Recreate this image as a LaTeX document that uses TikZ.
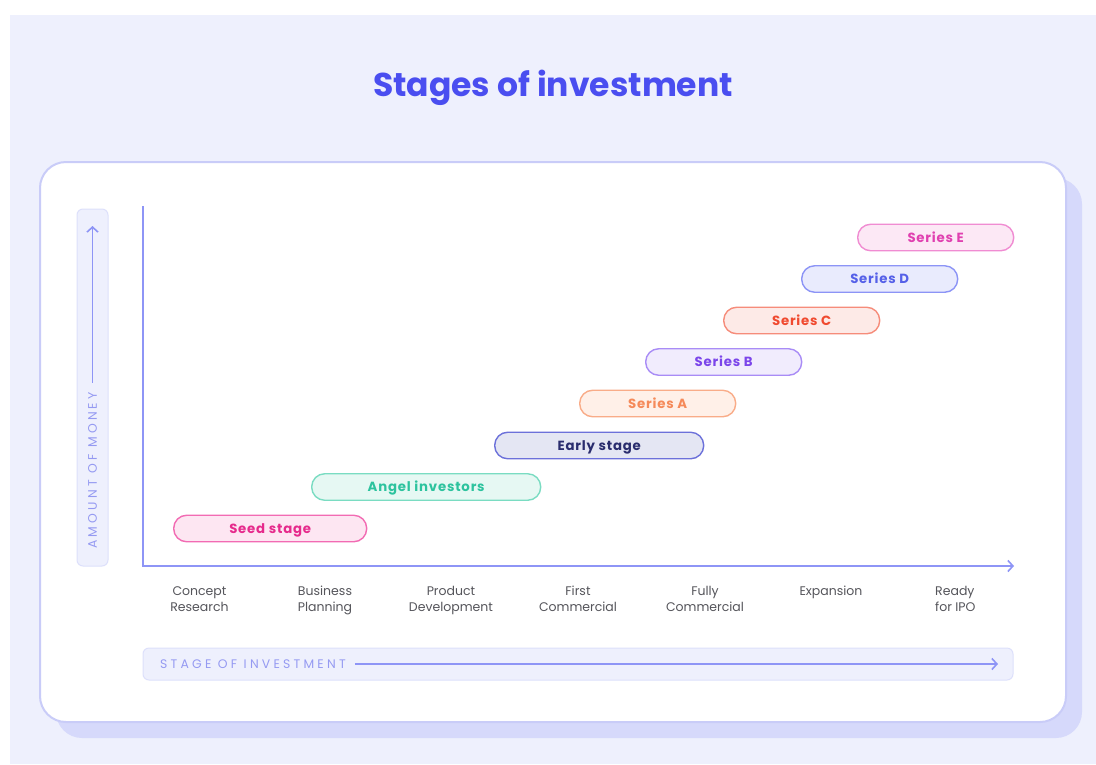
\documentclass[tikz,border=0pt]{standalone}
\usepackage{fontspec}
\usetikzlibrary{arrows.meta}
\setmainfont{Poppins}
\newfontfamily\capsfont[LetterSpace=26]{Poppins}
\newfontfamily\pillfont[LetterSpace=6]{Poppins}

\definecolor{pagebg}{HTML}{EEF0FD}
\definecolor{cardline}{HTML}{C9CCF8}
\definecolor{cardshadow}{HTML}{D6D9FB}
\definecolor{axisblue}{HTML}{8E95F6}
\definecolor{tagfill}{HTML}{EEF0FD}
\definecolor{tagline}{HTML}{DDE0FB}
\definecolor{tagtext}{HTML}{959AF2}
\definecolor{titleblue}{HTML}{4A4EF0}
\definecolor{stagegray}{HTML}{55555B}
% round colours: line / fill / text
\definecolor{seedL}{HTML}{F26BB3}\definecolor{seedF}{HTML}{FDE6F2}\definecolor{seedT}{HTML}{E62A8C}
\definecolor{angelL}{HTML}{7ADCC2}\definecolor{angelF}{HTML}{E6F8F3}\definecolor{angelT}{HTML}{2DC39E}
\definecolor{earlyL}{HTML}{6C71DA}\definecolor{earlyF}{HTML}{E4E6F3}\definecolor{earlyT}{HTML}{2A2D6E}
\definecolor{aL}{HTML}{F9AC88}\definecolor{aF}{HTML}{FFF0E8}\definecolor{aT}{HTML}{F58A5A}
\definecolor{bL}{HTML}{A98CF6}\definecolor{bF}{HTML}{F1ECFD}\definecolor{bT}{HTML}{7B45EA}
\definecolor{cL}{HTML}{F68C7A}\definecolor{cF}{HTML}{FDEAE7}\definecolor{cT}{HTML}{F04A30}
\definecolor{dL}{HTML}{8C94F6}\definecolor{dF}{HTML}{E9EBFD}\definecolor{dT}{HTML}{5560E8}
\definecolor{eL}{HTML}{F08CD2}\definecolor{eF}{HTML}{FCE8F5}\definecolor{eT}{HTML}{E040B0}

\tikzset{
  axis/.style={draw=axisblue, line width=1.6pt, -{Straight Barb[length=5pt,width=11pt,line width=1.6pt]}},
  tagbox/.style={draw=tagline, fill=tagfill, line width=1pt, rounded corners=6pt, inner sep=0pt},
  tagtxt/.style={text=tagtext, font=\capsfont\fontsize{12.4}{14}\selectfont, inner sep=0pt},
  pill/.style={draw, line width=1.4pt, rounded corners=13pt, minimum height=26.5pt,
    text height=9.4pt, text depth=0pt,
    inner sep=0pt, anchor=west, font=\pillfont\bfseries\fontsize{13.3}{15}\selectfont},
  round/.style args={#1/#2}{pill, draw=#1L, fill=#1F, text=#1T, minimum width=#2},
  stagelbl/.style={text=stagegray, align=center, anchor=north, inner sep=0pt,
    font=\fontsize{12.5}{16}\selectfont},
}

\begin{document}
\begin{tikzpicture}[x=1pt, y=-1pt]
  \useasboundingbox (0,0) rectangle (1096,764);
  % page backdrop
  \fill[pagebg] (10,15) rectangle (1096,764);

  % title
  \node[text=titleblue, font=\bfseries\fontsize{33}{38}\selectfont] (title) at (553,88) {Stages of investment};

  % card with its offset shadow
  \fill[cardshadow, rounded corners=26pt] (56,178) rectangle (1082,738);
  \draw[cardline, fill=white, line width=2pt, rounded corners=26pt] (40,162) rectangle (1066,722);

  % vertical axis tag
  \node[tagbox, minimum width=31pt, minimum height=357pt] (ybox) at (92.5,387.5) {};
  \node[tagtxt, rotate=90, anchor=west] (ytxt) at (92.5,549) {AMOUNT OF MONEY};
  \coordinate (ytip) at (92.5,226);
  \draw[axis, line width=1.4pt] (ytxt.east) ++(0,-9) -- (ytip);

  % axes
  \coordinate (origin) at (143,566);
  \coordinate (ytop) at (143,206);
  \coordinate (xend) at (1014,566);
  \draw[axis] (ytop) -- (origin) -- (xend);

  % horizontal axis tag
  \node[tagbox, minimum width=870pt, minimum height=32pt] (xbox) at (578,664) {};
  \node[tagtxt, anchor=west] (xtxt) at (160,664) {STAGE OF INVESTMENT};
  \coordinate (xtip) at (998,664);
  \draw[axis, line width=1.4pt] (xtxt.east) ++(9,0) -- (xtip);

  % funding rounds
  \node[round=seed/193pt] (seed) at (173,528.5) {Seed stage};
  \node[round=angel/229pt] (angel) at (311,487) {Angel investors};
  \node[round=early/209pt] (early) at (494,445.5) {Early stage};
  \node[round=a/156pt] (sera) at (579,403.5) {Series A};
  \node[round=b/156pt] (serb) at (645,362) {Series B};
  \node[round=c/156pt] (serc) at (723,320.5) {Series C};
  \node[round=d/156pt] (serd) at (801,279) {Series D};
  \node[round=e/156pt] (sere) at (857,237.5) {Series E};

  % stages along the horizontal axis
  \node[stagelbl] (s1) at (199.5,586) {Concept\\Research};
  \node[stagelbl] (s2) at (325,586) {Business\\Planning};
  \node[stagelbl] (s3) at (451,586) {Product\\Development};
  \node[stagelbl] (s4) at (578,586) {First\\Commercial};
  \node[stagelbl] (s5) at (705,586) {Fully\\Commercial};
  \node[stagelbl] (s6) at (831,586) {Expansion};
  \node[stagelbl, align=left, anchor=north west] (s7) at (935,586) {Ready\\for IPO};
\end{tikzpicture}
\end{document}
